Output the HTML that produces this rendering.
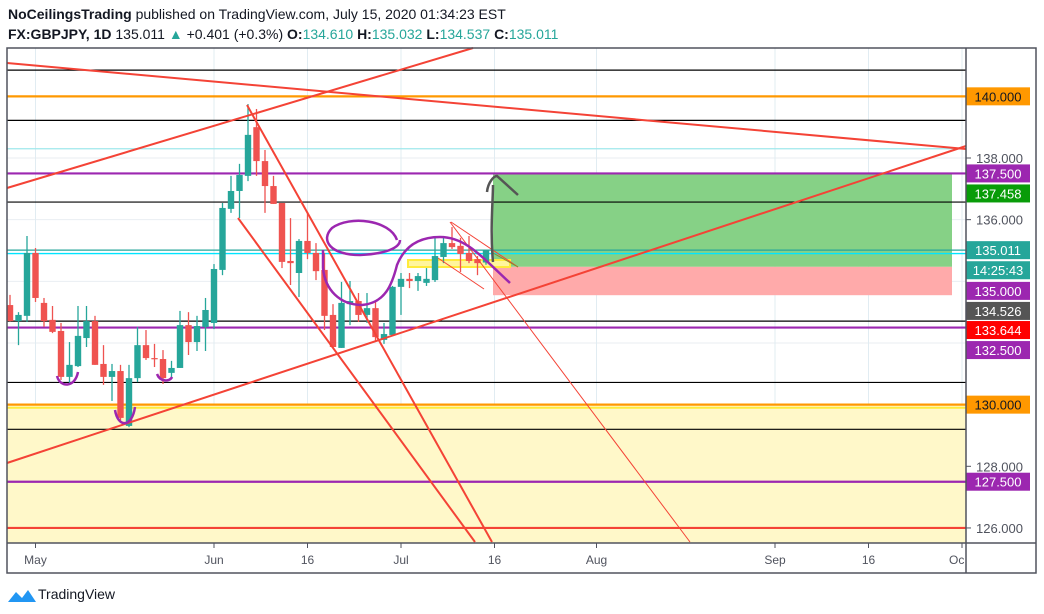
<!DOCTYPE html>
<html><head><meta charset="utf-8"><style>
body{margin:0;background:#fff;width:1044px;height:614px;overflow:hidden;font-family:"Liberation Sans",sans-serif}
svg{display:block}
</style></head><body>
<svg id="c" width="1044" height="614" xmlns="http://www.w3.org/2000/svg" font-family="Liberation Sans, sans-serif">
<text x="8" y="19" font-size="14" fill="#131722"><tspan font-weight="bold">NoCeilingsTrading</tspan> published on TradingView.com, July 15, 2020 01:34:23 EST</text>
<text x="8" y="39" font-size="14" fill="#131722"><tspan font-weight="bold">FX:GBPJPY, 1D</tspan> 135.011 <tspan fill="#26a69a">▲</tspan> +0.401 (+0.3%) <tspan font-weight="bold">O:</tspan><tspan fill="#26a69a">134.610</tspan> <tspan font-weight="bold">H:</tspan><tspan fill="#26a69a">135.032</tspan> <tspan font-weight="bold">L:</tspan><tspan fill="#26a69a">134.537</tspan> <tspan font-weight="bold">C:</tspan><tspan fill="#26a69a">135.011</tspan></text>
<g id="g"></g>
<rect x="7" y="48" width="1029" height="525" fill="none" stroke="#50535e" stroke-width="1.5"/>
<line x1="966" y1="48" x2="966" y2="573" stroke="#50535e" stroke-width="1.5"/>
<line x1="7" y1="543" x2="1036" y2="543" stroke="#50535e" stroke-width="1.5"/>
<g><path d="M8 602 L16 592 L22 598 L28 590 L36 602 Z" fill="#2196f3"/><text x="38" y="599" font-size="14" fill="#131722">TradingView</text></g>
</svg>
<script>
const dates=["May","Jun","16","Jul","16","Aug","Sep","16","Oc"];
const dateIdx=[3,24,35,46,57,69,90,101,112];
const priceTicks=[138,136,128,126];
const opens=[133.23,132.71,132.88,134.92,133.30,132.75,132.39,130.90,131.25,132.16,132.71,131.32,130.90,131.09,129.31,130.86,131.93,131.51,131.48,131.03,131.19,132.58,132.03,132.52,132.65,134.37,136.35,136.93,137.42,139.00,137.90,137.09,136.54,134.66,134.27,135.31,134.92,134.37,132.91,131.84,133.26,133.36,132.91,133.13,132.10,132.26,133.82,134.08,134.01,133.95,134.04,134.79,135.24,135.15,134.92,134.72,134.61];
const highs=[133.56,133.00,135.47,135.08,133.46,133.20,132.65,132.03,133.20,133.20,132.88,131.93,131.32,131.29,131.29,132.52,132.42,131.97,131.77,131.42,133.04,133.00,132.88,133.46,134.56,136.54,137.42,137.81,139.75,139.59,138.26,137.42,136.54,136.05,135.37,136.25,135.24,134.92,133.26,133.98,134.01,133.62,133.62,133.33,132.65,133.85,134.27,134.27,134.27,134.43,135.41,135.44,135.76,135.41,135.47,134.82,135.032];
const lows=[132.70,131.93,132.68,133.33,132.52,132.32,130.80,130.64,131.22,131.87,131.29,130.64,130.12,129.50,129.27,130.73,131.45,131.22,130.67,130.86,131.19,131.61,131.74,131.74,132.45,134.20,136.22,136.05,137.25,137.42,136.22,136.51,134.43,133.88,133.49,134.72,134.04,132.42,131.84,131.84,132.58,132.68,132.65,132.06,131.97,132.23,132.91,133.78,133.69,133.85,133.98,134.59,135.05,134.30,134.59,134.20,134.537];
const closes=[132.71,132.91,134.92,133.46,132.71,132.36,130.90,131.29,132.23,132.71,131.29,130.90,131.09,129.57,130.86,131.93,131.51,131.48,130.86,131.19,132.58,132.03,132.55,133.07,134.40,136.38,136.93,137.45,138.75,137.90,137.09,136.51,134.63,134.59,135.31,134.92,134.33,132.88,131.87,133.30,133.36,132.91,133.13,132.19,132.29,133.82,134.08,134.01,134.17,134.08,134.82,135.24,135.11,134.89,134.66,134.59,135.011];
const levelPrices=[140,137.5,132.5,130,127.5,126];
const levelColors=["#ff9800","#9c27b0","#9c27b0","#ff9800","#9c27b0","#f44336"];
const blackLevels=[140.85,139.22,136.57,132.71,130.72,129.2];
const labelTexts=["140.000","137.500","137.458","135.011","14:25:43","135.000","134.526","133.644","132.500","130.000","127.500"];
const labelPrices=[140,137.5,136.85,135.011,134.36,133.69,133.04,132.42,131.77,130,127.5];
const labelColors=["#ff9800","#9c27b0","#089c08","#26a69a","#26a69a","#9c27b0","#555555","#ff0000","#9c27b0","#ff9800","#9c27b0"];

const y=p=>158+(138-p)*30.83;
const x=i=>10+8.5*i;
const NS="http://www.w3.org/2000/svg";
const g=document.getElementById('g');
function mk(t,a){const e=document.createElementNS(NS,t);for(const k in a)e.setAttribute(k,a[k]);g.appendChild(e);return e;}

for(let p=126;p<=140;p+=2){const e=mk('line',{x1:7,x2:966,y1:y(p),y2:y(p),stroke:'#e9eef2'});

}
dateIdx.forEach((d,k)=>{const xx=x(d);const e=mk('line',{x1:xx,x2:xx,y1:48,y2:543,stroke:'#e1ecf2'});


const tk=mk('line',{x1:xx,x2:xx,y1:543,y2:548,stroke:'#50535e'});


const t=mk('text',{x:xx,y:564,'font-size':12,fill:'#50535e','text-anchor':k==8?'start':'middle'});t.textContent=dates[k];
if(k==8)t.setAttribute('x',xx-13);

});

let e=mk('rect',{x:7,y:y(130),width:959,height:543-y(130),fill:'#fff8c9'});


e=mk('rect',{x:493,y:y(137.5),width:459,height:y(134.47)-y(137.5),fill:'#86d186'});


e=mk('rect',{x:493,y:y(134.47),width:459,height:y(133.55)-y(134.47),fill:'#ffaaaa'});



blackLevels.forEach(p=>{const v=y(p);const l=mk('line',{x1:7,x2:966,y1:v,y2:v,stroke:'#000','stroke-width':1.2});

});
[[y(138.3),'#9fe8ec'],[y(135.011),'#26a69a'],[y(134.9),'#00e5ff']].forEach(a=>{const l=mk('line',{x1:7,x2:966,y1:a[0],y2:a[0],stroke:a[1],'stroke-width':1.3});

});
e=mk('line',{x1:7,x2:966,y1:y(129.9),y2:y(129.9),stroke:'#ffeb3b','stroke-width':2});


levelPrices.forEach((p,k)=>{const l=mk('line',{x1:7,x2:966,y1:y(p),y2:y(p),stroke:levelColors[k],'stroke-width':2.2});

});

e=mk('rect',{x:408,y:260,width:102,height:7,fill:'#fff59d',stroke:'#ffeb3b','stroke-width':2});



for(let i=0;i<opens.length;i++){const up=closes[i]>=opens[i];const c=up?'#26a69a':'#ef5350';
const w=mk('line',{x1:x(i),x2:x(i),y1:y(highs[i]),y2:y(lows[i]),stroke:c,'stroke-width':1.3});


const t=y(Math.max(opens[i],closes[i])),b=y(Math.min(opens[i],closes[i]));
const r=mk('rect',{x:x(i)-3.2,y:t,width:6.4,height:Math.max(1.2,b-t),fill:c});

}

[[7,63,966,149,2],[7,188,473,48,2],[7,463,966,146,2],[247,105,492,542,2],[238,218,475,542,2],[450,222,690,542,1],[451,222,518,267,1],[438,258,484,289,1]].forEach(a=>{const l=mk('line',{x1:a[0],y1:a[1],x2:a[2],y2:a[3],stroke:'#f44336','stroke-width':a[4]});

});
e=mk('line',{x1:493,y1:253,x2:518,y2:267,stroke:'#8a8a2a','stroke-width':1});



['M397 240 C390 220 350 215 332 228 C320 240 330 255 360 255 C385 254 400 248 400 240',
 'M323 250 L323 268 C325 290 340 305 362 305 C385 303 392 285 397 265 C405 245 420 237 440 237 C465 237 480 255 510 283',
 'M57 376 C60 388 75 388 78 372','M115 410 C118 428 132 428 135 407','M157 374 C160 382 170 382 172 377'].forEach(d=>{const p=mk('path',{d:d,fill:'none',stroke:'#9c27b0','stroke-width':2.5});

});
e=mk('path',{d:'M493 262 C490 230 493 200 493 185 M487 192 C488 182 494 176 497 176 L518 195',fill:'none',stroke:'#555','stroke-width':2.5});



priceTicks.forEach(p=>{const t=mk('text',{x:976,y:y(p)+5,'font-size':13,fill:'#50535e'});t.textContent=p.toFixed(3);


const l=mk('line',{x1:966,x2:971,y1:y(p),y2:y(p),stroke:'#50535e'});

});
labelTexts.forEach((s,k)=>{const yy=y(labelPrices[k]);
const r=mk('rect',{x:966,y:yy-9,width:64,height:18,fill:labelColors[k]});


const t=mk('text',{x:998,y:yy+5,'font-size':13,fill:k==0||k==9?'#131722':'#fff','text-anchor':'middle'});t.textContent=s;

});
</script>
</body></html>
